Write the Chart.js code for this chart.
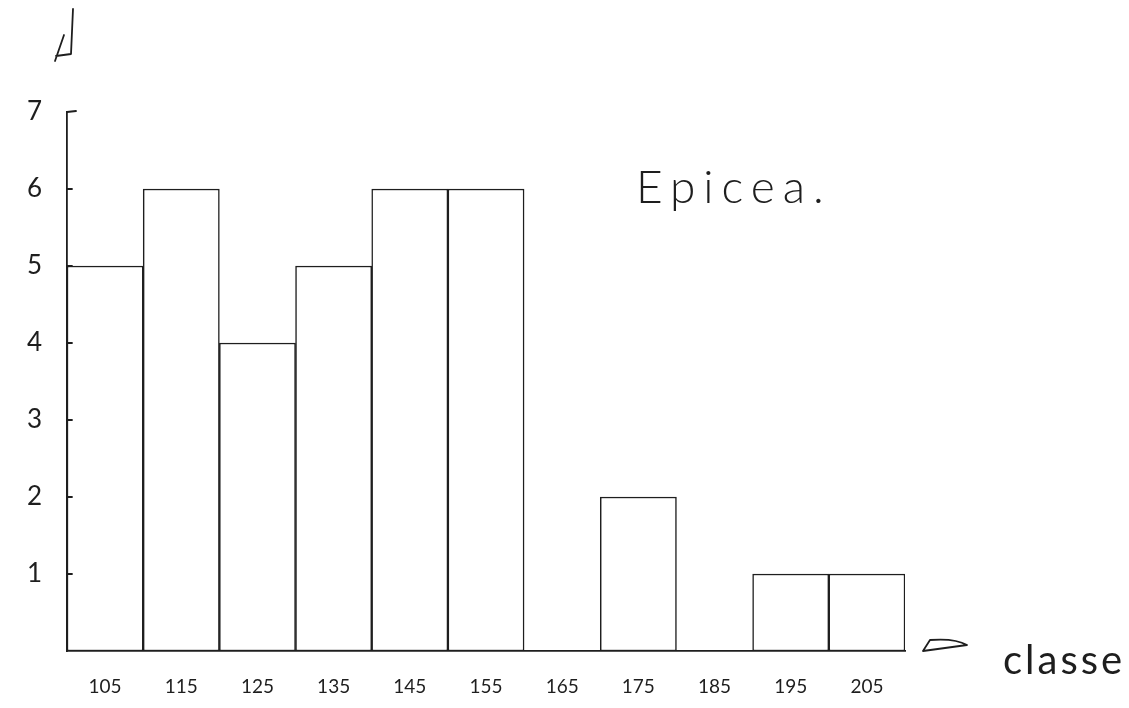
<!DOCTYPE html>
<html>
<head>
<meta charset="utf-8">
<script src="https://cdn.jsdelivr.net/npm/chart.js@4.4.1/dist/chart.umd.min.js"></script>
<style>
  html, body { margin: 0; padding: 0; background: #fff; }
  #wrap { width: 1129px; height: 708px; }
</style>
</head>
<body>
<div id="wrap"><canvas id="c" width="1129" height="708"></canvas></div>
<script>
const categories = ['105', '115', '125', '135', '145', '155', '165', '175', '185', '195', '205'];
const counts = [5, 6, 4, 5, 6, 6, 0, 2, 0, 1, 1];
const yTickLabels = ['1', '2', '3', '4', '5', '6', '7'];
const chartTitle = 'Epicea.';
const xAxisTitle = 'classe';

const INK = '#1e1e1e';
const HAND = '"Lato", "Noto Sans", sans-serif';

const decor = {
  id: 'decor',
  afterDraw(chart) {
    const ctx = chart.ctx;
    const y = chart.scales.y;
    const ca = chart.chartArea;
    ctx.save();
    ctx.strokeStyle = INK;
    ctx.lineWidth = 1.8;
    ctx.lineCap = 'round';
    ctx.lineJoin = 'round';
    // small inward tick marks on y axis
    for (let v = 1; v <= 7; v++) {
      const py = y.getPixelForValue(v);
      ctx.beginPath();
      ctx.moveTo(ca.left, py);
      ctx.lineTo(ca.left + (v === 7 ? 9 : 5), py + (v === 7 ? -1 : 0));
      ctx.stroke();
    }
    // y-axis arrow head (open triangle) at top
    ctx.beginPath();
    ctx.moveTo(73, 9);
    ctx.lineTo(71, 54);
    ctx.lineTo(56, 56);
    ctx.moveTo(55, 61);
    ctx.lineTo(64, 35);
    ctx.stroke();
    // x-axis arrow head
    ctx.beginPath();
    ctx.moveTo(923, 651);
    ctx.lineTo(930, 640);
    ctx.quadraticCurveTo(955, 638, 967, 645);
    ctx.lineTo(923, 651);
    ctx.stroke();
    // texts
    ctx.fillStyle = INK;
    ctx.textBaseline = 'alphabetic';
    ctx.textAlign = 'left';
    ctx.font = '300 46px ' + HAND;
    ctx.letterSpacing = '8px';
    ctx.fillText(chartTitle, 636, 203);
    ctx.font = '400 40px ' + HAND;
    ctx.letterSpacing = '3px';
    ctx.fillText(xAxisTitle, 1003, 674);
    ctx.restore();
  }
};

new Chart(document.getElementById('c'), {
  type: 'bar',
  data: {
    labels: categories,
    datasets: [{
      data: counts,
      backgroundColor: '#ffffff',
      borderColor: INK,
      borderWidth: 1.5,
      borderSkipped: false,
      categoryPercentage: 1.0,
      barPercentage: 1.0
    }]
  },
  options: {
    responsive: false,
    animation: false,
    devicePixelRatio: 1,
    layout: { padding: { top: 112, right: 224, bottom: 0, left: 0 } },
    plugins: {
      legend: { display: false },
      tooltip: { enabled: false },
      title: { display: false }
    },
    scales: {
      x: {
        grid: { display: false, drawTicks: false },
        border: { display: true, color: INK, width: 1.8 },
        ticks: {
          color: INK,
          padding: 24,
          maxRotation: 0,
          font: { family: HAND, size: 19, weight: '400' }
        },
        afterFit(s) { s.height = 57; }
      },
      y: {
        min: 0,
        max: 7,
        grid: { display: false, drawTicks: false },
        border: { display: true, color: INK, width: 1.8 },
        ticks: {
          stepSize: 1,
          color: INK,
          padding: 25,
          font: { family: HAND, size: 26, weight: '400' },
          callback(v) { return v === 0 ? '' : yTickLabels[v - 1]; }
        },
        afterFit(s) { s.width = 67; }
      }
    }
  },
  plugins: [decor]
});
</script>
</body>
</html>
